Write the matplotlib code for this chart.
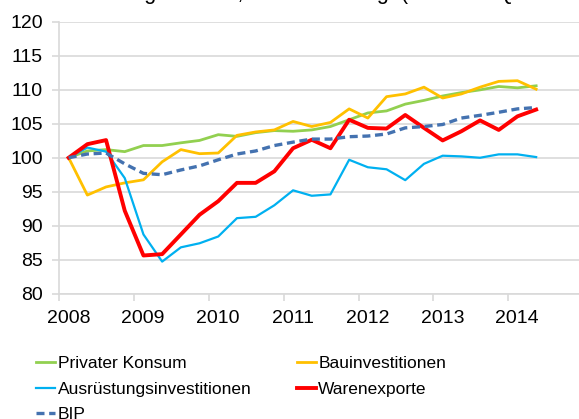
import matplotlib
matplotlib.use("Agg")
import matplotlib.pyplot as plt
from matplotlib.transforms import ScaledTranslation

plt.rcParams['font.family'] = ['Liberation Sans', 'DejaVu Sans']

# Quarterly data, 2008Q1 .. 2014Q2 (index, 2008Q1 = 100)
years = [2008]*4 + [2009]*4 + [2010]*4 + [2011]*4 + [2012]*4 + [2013]*4 + [2014]*2
quarters = [1, 2, 3, 4]*6 + [1, 2]

privater_konsum = [100.0, 101.0, 101.2, 100.9, 101.8, 101.8, 102.2, 102.55, 103.4, 103.15,
                   103.7, 104.0, 103.9, 104.1, 104.6, 105.6, 106.6, 106.9, 107.9, 108.45,
                   109.1, 109.6, 110.0, 110.5, 110.3, 110.6]
bauinvestitionen = [100.0, 94.5, 95.7, 96.3, 96.75, 99.4, 101.2, 100.6, 100.7, 103.3,
                    103.8, 104.1, 105.35, 104.6, 105.2, 107.2, 105.85, 109.0, 109.4, 110.4,
                    108.8, 109.4, 110.4, 111.25, 111.35, 110.1]
ausruestung = [100.0, 101.5, 100.9, 97.0, 88.7, 84.7, 86.8, 87.4, 88.4, 91.1,
               91.3, 93.0, 95.2, 94.4, 94.6, 99.7, 98.6, 98.3, 96.7, 99.1,
               100.3, 100.2, 100.0, 100.5, 100.5, 100.1]
warenexporte = [100.0, 102.0, 102.6, 92.2, 85.6, 85.8, 88.7, 91.6, 93.6, 96.3,
                96.3, 98.0, 101.4, 102.65, 101.4, 105.6, 104.4, 104.3, 106.3, 104.4,
                102.55, 103.9, 105.5, 104.1, 106.1, 107.1]
bip = [100.0, 100.55, 100.7, 99.1, 97.7, 97.5, 98.2, 98.8, 99.7, 100.55,
       101.0, 101.8, 102.3, 102.75, 102.75, 103.1, 103.2, 103.5, 104.4, 104.6,
       104.9, 105.85, 106.25, 106.7, 107.2, 107.4]

labels = ["Privater Konsum", "Bauinvestitionen", "Ausrüstungsinvestitionen", "Warenexporte", "BIP"]
colors = ["#92D050", "#FFC000", "#00B0F0", "#FF0000", "#4472B0"]
title = "Preisbereinigte Werte, saisonbereinigt (Index: 1. Quartal 2008 = 100)"

x = [y + (q - 0.5) / 4.0 for y, q in zip(years, quarters)]

W, H = 579, 419
fig = plt.figure(figsize=(W/100, H/100), dpi=100)
left_px, right_px = 59.3, 59.3 + 7*74.8
top_px, bot_px = 22.0, 293.5
ax = fig.add_axes([left_px/W, 1 - bot_px/H, (right_px-left_px)/W, (bot_px-top_px)/H])

grid_c = "#D9D9D9"
l1, = ax.plot(x, privater_konsum, color=colors[0], lw=2.0, solid_joinstyle='round', zorder=3)
l2, = ax.plot(x, bauinvestitionen, color=colors[1], lw=2.0, solid_joinstyle='round', zorder=3)
l3, = ax.plot(x, ausruestung, color=colors[2], lw=1.6, solid_joinstyle='round', zorder=3)
l4, = ax.plot(x, warenexporte, color=colors[3], lw=2.8, solid_joinstyle='round', zorder=3)
l5, = ax.plot(x, bip, color=colors[4], lw=2.4, dashes=(2.4, 1.4), zorder=3)

ax.set_xlim(2008, 2015)
ax.set_ylim(80, 120)
ax.set_yticks(range(80, 121, 5))
ax.set_xticks(range(2008, 2015))
ax.grid(axis='y', color=grid_c, lw=1.2, zorder=0)
for s in ['top', 'right']:
    ax.spines[s].set_visible(False)
for s in ['left', 'bottom']:
    ax.spines[s].set_color(grid_c)
    ax.spines[s].set_linewidth(1.2)
ax.tick_params(axis='both', which='both', color=grid_c, length=5, width=1.2,
               labelsize=14, labelcolor='black')
ax.tick_params(axis='y', pad=7)
ax.tick_params(axis='x', pad=7)
for lab in ax.get_xticklabels():
    lab.set_transform(lab.get_transform() + ScaledTranslation(9/100, 0, fig.dpi_scale_trans))

fig.text(30/W, 1 + 1/H, title, fontsize=15.6, ha='left', va='baseline')

handles = [l1, l3, l5, l2, l4]
hl = [labels[0], labels[2], labels[4], labels[1], labels[3]]
fig.legend(handles, hl, loc='upper left', bbox_to_anchor=(36/W, 1 - 356/H),
           ncol=2, frameon=False, fontsize=12.5, borderpad=0, borderaxespad=0,
           handlelength=1.1, handletextpad=0.15, columnspacing=2.6, labelspacing=0.6)

fig.savefig("out.png", dpi=100)
